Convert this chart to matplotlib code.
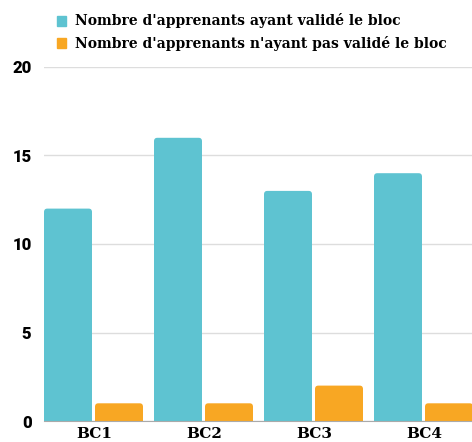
import matplotlib.pyplot as plt
from matplotlib.patches import FancyBboxPatch, Patch
import numpy as np

blocs = ['BC1', 'BC2', 'BC3', 'BC4']
valides = [12, 16, 13, 14]
non_valides = [1, 1, 2, 1]
series_labels = ["Nombre d'apprenants ayant validé le bloc",
                 "Nombre d'apprenants n'ayant pas validé le bloc"]

teal = '#5EC3D1'
orange = '#F8A723'

fig = plt.figure(figsize=(4.72, 4.42), dpi=100)
ax = fig.add_axes([44/472, 21/442, 428/472, 354/442])

x = np.arange(len(blocs))
w = 48/110
b1 = ax.bar(x, valides, w, align='edge', color=teal, zorder=3)
b2 = ax.bar(x + 51/110, non_valides, w, align='edge', color=orange, zorder=3)

# coins arrondis en haut des barres (le bas passe sous l'axe)
for bars in (b1, b2):
    for p in bars:
        p.set_visible(False)
        ax.add_patch(FancyBboxPatch((p.get_x(), p.get_y() - 0.5), p.get_width(), p.get_height() + 0.5,
                                    boxstyle='round,pad=0,rounding_size=0.03',
                                    mutation_aspect=6.5, color=p.get_facecolor(),
                                    linewidth=0, zorder=3))

ax.set_xlim(0, 428/110)
ax.set_ylim(0, 20)
ax.set_yticks([0, 5, 10, 15, 20])
ax.set_xticks(x + 50/110)
ax.set_xticklabels(blocs, fontfamily='DejaVu Serif', fontweight='bold', fontsize=11)
for t in ax.get_yticklabels():
    t.set_fontfamily('Roboto')
    t.set_fontweight('black')
    t.set_fontsize(12)
ax.tick_params(axis='y', length=0, pad=9)
ax.tick_params(axis='x', length=0, pad=4)
ax.grid(axis='y', color='#dddddd', linewidth=1, zorder=0)
for s in ['top', 'right', 'left']:
    ax.spines[s].set_visible(False)
ax.spines['bottom'].set_color('#aaaaaa')
ax.spines['bottom'].set_zorder(4)

handles = [Patch(color=teal), Patch(color=orange)]
fig.legend(handles, series_labels, loc='upper left', bbox_to_anchor=(44/472, 1 - 1/442), frameon=False,
           prop={'family': 'DejaVu Serif', 'weight': 'bold', 'size': 10},
           handlelength=0.7, handleheight=0.7, handletextpad=0.6, labelspacing=0.55)

fig.savefig('out.png', dpi=100)
